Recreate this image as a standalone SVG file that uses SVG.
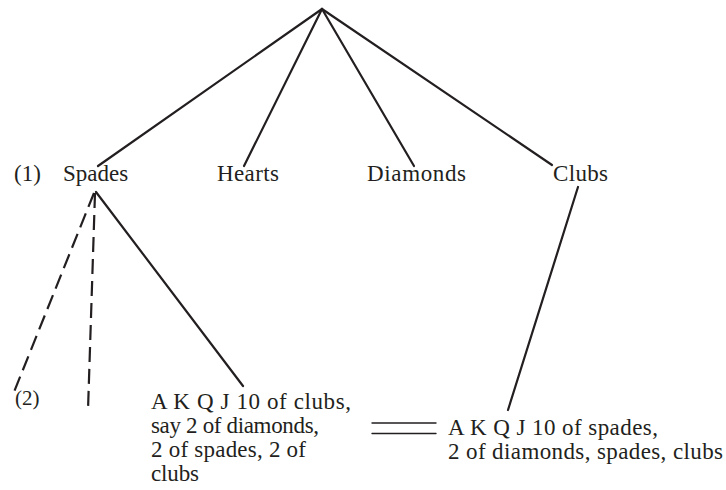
<svg xmlns="http://www.w3.org/2000/svg" width="726" height="490" viewBox="0 0 726 490">
<style>
text{font-family:"Liberation Serif","Times New Roman",serif;fill:#231f20}
.n{font-size:23px}
.t{font-size:23px}
.l{stroke:#231f20;stroke-width:2.2;fill:none;stroke-linecap:round}
.d{stroke-dasharray:15 7;stroke-linecap:butt}
.e{stroke-width:1.4}
</style>
<rect width="726" height="490" fill="#fff"/>
<g id="connectors">
<line class="l" x1="322" y1="9" x2="98" y2="166"/>
<line class="l" x1="322" y1="9" x2="244" y2="166"/>
<line class="l" x1="322" y1="9" x2="414" y2="166"/>
<line class="l" x1="322" y1="9" x2="552" y2="165"/>
<line class="l d" x1="94" y1="193" x2="12" y2="397"/>
<line class="l d" x1="95" y1="193" x2="88" y2="410"/>
<line class="l" x1="96" y1="192" x2="243" y2="386"/>
<line class="l" x1="578" y1="187" x2="508" y2="410"/>
<line class="l e" x1="372" y1="423" x2="436" y2="423"/>
<line class="l e" x1="372" y1="433.5" x2="436" y2="433.5"/>
</g>
<g id="label-1"><text class="n" x="14" y="181">(1)</text></g>
<g id="spades"><text class="n" x="63" y="181">Spades</text></g>
<g id="hearts"><text class="n" x="217" y="181" textLength="62" lengthAdjust="spacing">Hearts</text></g>
<g id="diamonds"><text class="n" x="367" y="181" textLength="99" lengthAdjust="spacing">Diamonds</text></g>
<g id="clubs"><text class="n" x="553" y="181" textLength="55" lengthAdjust="spacing">Clubs</text></g>
<g id="label-2"><text class="t" x="15" y="405" style="font-size:21px">(2)</text></g>
<g id="hand-left">
<text class="t" x="151" y="409" textLength="200" lengthAdjust="spacing">A K Q J 10 of clubs,</text>
<text class="t" x="151" y="433" textLength="168" lengthAdjust="spacing">say 2 of diamonds,</text>
<text class="t" x="151" y="457" textLength="155" lengthAdjust="spacing">2 of spades, 2 of</text>
<text class="t" x="151" y="481" textLength="48" lengthAdjust="spacing">clubs</text>
</g>
<g id="hand-right">
<text class="t" x="448" y="435" textLength="210" lengthAdjust="spacing">A K Q J 10 of spades,</text>
<text class="t" x="448" y="459" textLength="275" lengthAdjust="spacing">2 of diamonds, spades, clubs</text>
</g>
</svg>
